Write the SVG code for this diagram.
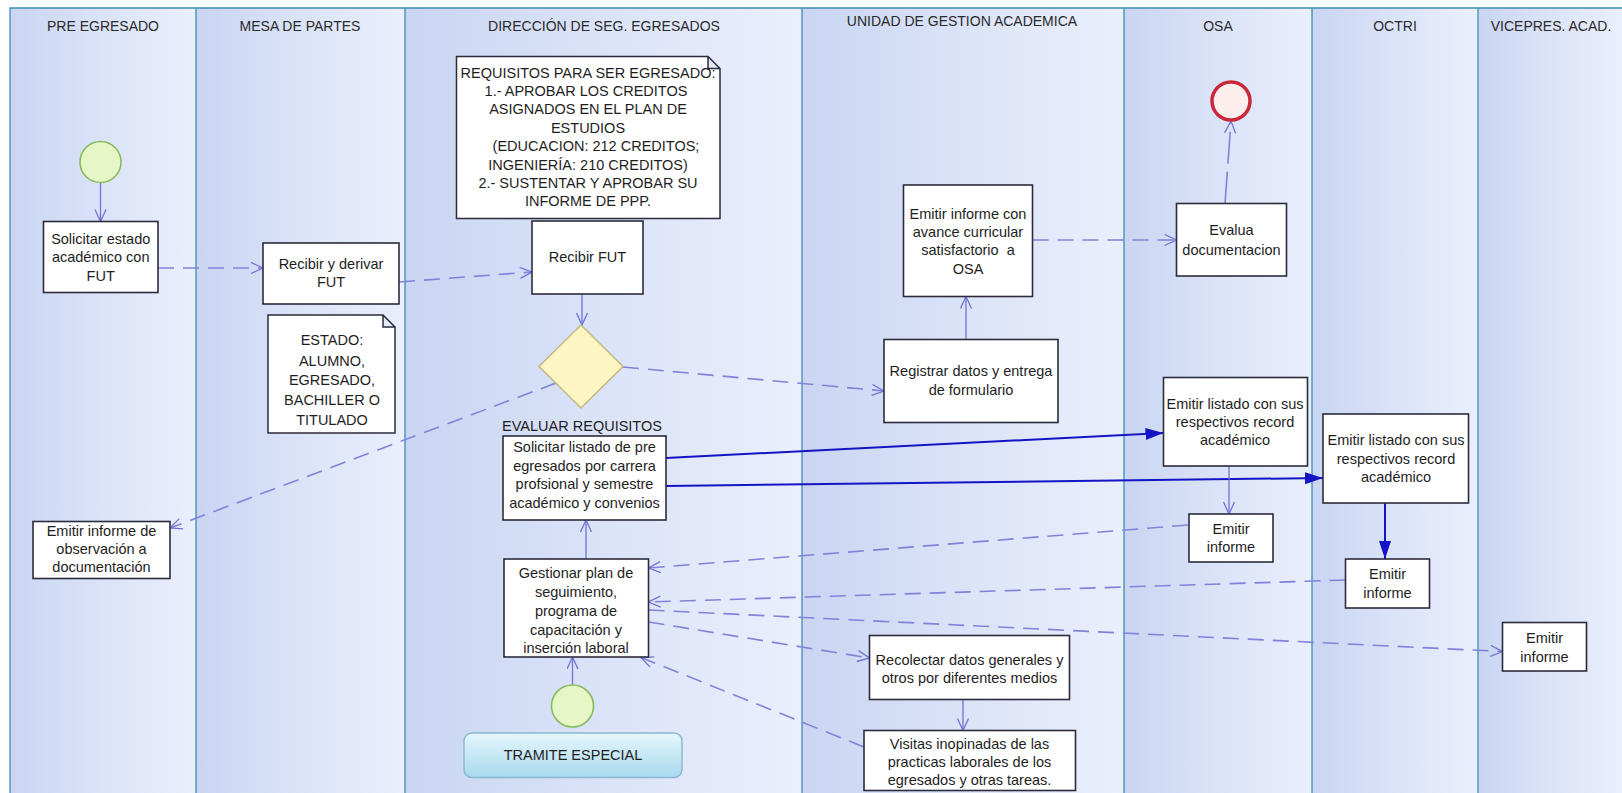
<svg xmlns="http://www.w3.org/2000/svg" width="1622" height="793" viewBox="0 0 1622 793">
<defs>
<linearGradient id="lane" x1="0" y1="0" x2="1" y2="0">
<stop offset="0" stop-color="#c9d5f2"/>
<stop offset="0.5" stop-color="#dbe3f8"/>
<stop offset="1" stop-color="#eaeffc"/>
</linearGradient>
<linearGradient id="tram" x1="0" y1="0" x2="0" y2="1">
<stop offset="0" stop-color="#e6f6fc"/>
<stop offset="1" stop-color="#a9d9ef"/>
</linearGradient>
<marker id="open" markerUnits="userSpaceOnUse" markerWidth="16" markerHeight="14" refX="13" refY="6" orient="auto">
<path d="M1,0.5 L13,6 L1,11.5" fill="none" stroke="#7272d6" stroke-width="1.3"/>
</marker>
<marker id="fill" markerUnits="userSpaceOnUse" markerWidth="20" markerHeight="14" refX="18" refY="6" orient="auto">
<path d="M0,0 L18,6 L0,12 Z" fill="#1414c4"/>
</marker>
<style>
.lane{fill:url(#lane);stroke:none}
.div{stroke:#3f8db4;stroke-width:1.3;fill:none}
.hdr{font-family:"Liberation Sans",Arial,sans-serif;font-size:14px;fill:#2a2a2a;text-anchor:middle}
.t{font-family:"Liberation Sans",Arial,sans-serif;font-size:14.5px;fill:#1e1e1e;text-anchor:middle}
.box{fill:#ffffff;stroke:#2b2b3c;stroke-width:1.6}
.note{fill:#ffffff;stroke:#2b2b3c;stroke-width:1.5}
.solid{stroke:#7272d6;stroke-width:1.3;fill:none;marker-end:url(#open)}
.dash{stroke:#8282da;stroke-width:1.6;fill:none;stroke-dasharray:16 9;marker-end:url(#open)}
.blue{stroke:#1414c4;stroke-width:2;fill:none;marker-end:url(#fill)}
</style>
</defs>
<rect x="0" y="0" width="1622" height="793" fill="#ffffff"/>
<g id="lanes">
<rect class="lane" x="10" y="8" width="186" height="785"/>
<rect class="lane" x="196" y="8" width="209" height="785"/>
<rect class="lane" x="405" y="8" width="397" height="785"/>
<rect class="lane" x="802" y="8" width="322" height="785"/>
<rect class="lane" x="1124" y="8" width="188" height="785"/>
<rect class="lane" x="1312" y="8" width="166" height="785"/>
<rect class="lane" x="1478" y="8" width="144" height="785"/>
<path class="div" d="M10,793 V8 H1622 M196,8 V793 M405,8 V793 M802,8 V793 M1124,8 V793 M1312,8 V793 M1478,8 V793"/>
<text class="hdr" x="103" y="31">PRE EGRESADO</text>
<text class="hdr" x="300" y="31">MESA DE PARTES</text>
<text class="hdr" x="604" y="31">DIRECCIÓN DE SEG. EGRESADOS</text>
<text class="hdr" x="962" y="26">UNIDAD DE GESTION ACADEMICA</text>
<text class="hdr" x="1218" y="31">OSA</text>
<text class="hdr" x="1395" y="31">OCTRI</text>
<text class="hdr" x="1551" y="31">VICEPRES. ACAD.</text>
</g>
<g id="connectors">
<path class="solid" d="M100.5,183 V221.5"/>
<path class="dash" d="M158,268 L263,268"/>
<path class="dash" d="M399,282 L532,272"/>
<path class="solid" d="M582,294 V325"/>
<path class="dash" d="M556,383 L170,528"/>
<path class="dash" d="M623,367 L884,391"/>
<path class="solid" d="M966,339.5 V296.5"/>
<path class="dash" d="M1032.5,240 L1176.5,240"/>
<path class="dash" style="stroke-dasharray:32 8" d="M1225,203.5 L1231,121"/>
<path class="blue" d="M666,458 L1163.5,433"/>
<path class="blue" d="M666,486 L1323,478"/>
<path class="solid" d="M1229,466 V514"/>
<path class="blue" d="M1385,503 V559"/>
<path class="dash" d="M1188,525 L648.5,568"/>
<path class="dash" d="M1345.5,580 L648.5,602"/>
<path class="dash" d="M648.5,610 L1502.5,651.5"/>
<path class="dash" d="M648.5,622 L869.5,658"/>
<path class="solid" d="M963,699.5 V730.5"/>
<path class="dash" d="M864,747 L641,657.5"/>
<path class="solid" d="M586,559 V520"/>
<path class="solid" d="M572.5,685 V657"/>
</g>
<g id="start1"><circle cx="100.5" cy="162" r="20.5" fill="#e6f6c6" stroke="#86bc5a" stroke-width="1.6"/></g>
<g id="n-solicitar-estado">
<rect class="box" x="43.5" y="221.5" width="114.5" height="71"/>
<text class="t" x="100.7" y="243.5">Solicitar estado</text>
<text class="t" x="100.7" y="262">académico con</text>
<text class="t" x="100.7" y="280.5">FUT</text>
</g>
<g id="n-recibir-derivar">
<rect class="box" x="263" y="243" width="136" height="61"/>
<text class="t" x="331" y="268.5">Recibir y derivar</text>
<text class="t" x="331" y="287">FUT</text>
</g>
<g id="note-requisitos">
<path class="note" d="M456.5,56.5 H708 L720,68.5 V218.5 H456.5 Z M708,56.5 V68.5 H720"/>
<text class="t" x="588" y="78">REQUISITOS PARA SER EGRESADO:</text>
<text class="t" x="586" y="96">1.- APROBAR LOS CREDITOS</text>
<text class="t" x="588" y="114">ASIGNADOS EN EL PLAN DE</text>
<text class="t" x="588" y="132.5">ESTUDIOS</text>
<text class="t" x="596" y="151">(EDUCACION: 212 CREDITOS;</text>
<text class="t" x="588" y="169.5">INGENIERÍA: 210 CREDITOS)</text>
<text class="t" x="588" y="187.5">2.- SUSTENTAR Y APROBAR SU</text>
<text class="t" x="588" y="206">INFORME DE PPP.</text>
</g>
<g id="n-recibir-fut">
<rect class="box" x="532" y="221" width="111" height="73"/>
<text class="t" x="587.5" y="262">Recibir FUT</text>
</g>
<g id="note-estado">
<path class="note" d="M268,315 H383 L395,327 V433 H268 Z M383,315 V327 H395"/>
<text class="t" x="332" y="345">ESTADO:</text>
<text class="t" x="332" y="365.5">ALUMNO,</text>
<text class="t" x="332" y="385">EGRESADO,</text>
<text class="t" x="332" y="405">BACHILLER O</text>
<text class="t" x="332" y="425">TITULADO</text>
</g>
<g id="decision">
<path d="M581,325 L623,366.5 L581,408 L539,366.5 Z" fill="#fdf6c3" stroke="#c2bb84" stroke-width="1.6"/>
<text class="t" x="582" y="431">EVALUAR REQUISITOS</text>
</g>
<g id="n-solicitar-listado">
<rect class="box" x="503" y="436" width="163" height="84"/>
<text class="t" x="584.5" y="452">Solicitar listado de pre</text>
<text class="t" x="584.5" y="470.5">egresados por carrera</text>
<text class="t" x="584.5" y="489">profsional y semestre</text>
<text class="t" x="584.5" y="508">académico y convenios</text>
</g>
<g id="n-emitir-observacion">
<rect class="box" x="33" y="521.5" width="137" height="57"/>
<text class="t" x="101.5" y="535.5">Emitir informe de</text>
<text class="t" x="101.5" y="553.5">observación a</text>
<text class="t" x="101.5" y="572">documentación</text>
</g>
<g id="n-gestionar">
<rect class="box" x="504" y="559" width="144.5" height="98"/>
<text class="t" x="576" y="578">Gestionar plan de</text>
<text class="t" x="576" y="597">seguimiento,</text>
<text class="t" x="576" y="616">programa de</text>
<text class="t" x="576" y="634.5">capacitación y</text>
<text class="t" x="576" y="653">inserción laboral</text>
</g>
<g id="start2"><circle cx="572.5" cy="706" r="21" fill="#e6f6c6" stroke="#86bc5a" stroke-width="1.6"/></g>
<g id="n-tramite">
<rect x="464" y="733" width="218" height="44.5" rx="8" fill="url(#tram)" stroke="#86b8d0" stroke-width="1.4"/>
<text class="t" x="573" y="760">TRAMITE ESPECIAL</text>
</g>
<g id="n-emitir-avance">
<rect class="box" x="903.5" y="185" width="129" height="111.5"/>
<text class="t" x="968" y="218.5">Emitir informe con</text>
<text class="t" x="968" y="237">avance curricular</text>
<text class="t" x="968" y="255" xml:space="preserve">satisfactorio  a</text>
<text class="t" x="968" y="273.5">OSA</text>
</g>
<g id="n-evalua">
<rect class="box" x="1176.5" y="203.5" width="110" height="72.5"/>
<text class="t" x="1231.5" y="235">Evalua</text>
<text class="t" x="1231.5" y="254.5">documentacion</text>
</g>
<g id="end"><circle cx="1231" cy="101" r="19" fill="#fdeeee" stroke="#c8283a" stroke-width="3.5"/></g>
<g id="n-registrar">
<rect class="box" x="884" y="339.5" width="174" height="83"/>
<text class="t" x="971" y="376">Registrar datos y entrega</text>
<text class="t" x="971" y="394.5">de formulario</text>
</g>
<g id="n-osa-listado">
<rect class="box" x="1163.5" y="377.5" width="144" height="88.5"/>
<text class="t" x="1235" y="408.5">Emitir listado con sus</text>
<text class="t" x="1235" y="427">respectivos record</text>
<text class="t" x="1235" y="445">académico</text>
</g>
<g id="n-octri-listado">
<rect class="box" x="1323" y="414" width="145.5" height="89"/>
<text class="t" x="1396" y="445">Emitir listado con sus</text>
<text class="t" x="1396" y="463.5">respectivos record</text>
<text class="t" x="1396" y="482">académico</text>
</g>
<g id="n-osa-informe">
<rect class="box" x="1189" y="514" width="84" height="48"/>
<text class="t" x="1231" y="533.5">Emitir</text>
<text class="t" x="1231" y="552">informe</text>
</g>
<g id="n-octri-informe">
<rect class="box" x="1345.5" y="559" width="84" height="49"/>
<text class="t" x="1387.5" y="578.5">Emitir</text>
<text class="t" x="1387.5" y="597.5">informe</text>
</g>
<g id="n-vice-informe">
<rect class="box" x="1502.5" y="622.5" width="84" height="48.5"/>
<text class="t" x="1544.5" y="643">Emitir</text>
<text class="t" x="1544.5" y="662">informe</text>
</g>
<g id="n-recolectar">
<rect class="box" x="869.5" y="635.5" width="200" height="64"/>
<text class="t" x="969.5" y="665">Recolectar datos generales y</text>
<text class="t" x="969.5" y="683">otros por diferentes medios</text>
</g>
<g id="n-visitas">
<rect class="box" x="864" y="730.5" width="211.5" height="60"/>
<text class="t" x="969.5" y="748.5">Visitas inopinadas de las</text>
<text class="t" x="969.5" y="767">practicas laborales de los</text>
<text class="t" x="969.5" y="785">egresados y otras tareas.</text>
</g>
</svg>
